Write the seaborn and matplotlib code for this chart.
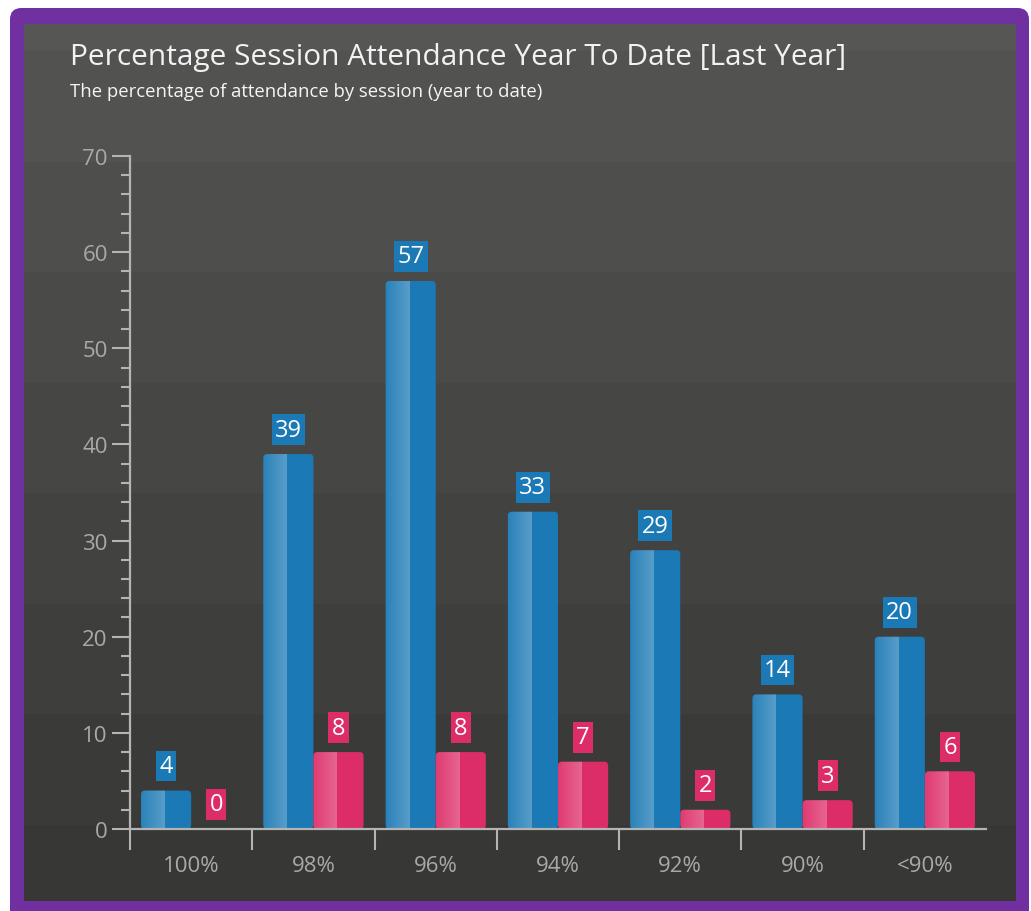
import numpy as np
import pandas as pd
import matplotlib
matplotlib.use("Agg")
import matplotlib.pyplot as plt
import seaborn as sns
from matplotlib.patches import FancyBboxPatch
from matplotlib.ticker import MultipleLocator, FixedLocator

# ---------------- data ----------------
categories = ["100%", "98%", "96%", "94%", "92%", "90%", "<90%"]
series_names = ["Pupils", "Comparison"]
blue_values = [4, 39, 57, 33, 29, 14, 20]
pink_values = [0, 8, 8, 7, 2, 3, 6]
y_ticks = [0, 10, 20, 30, 40, 50, 60, 70]

title = "Percentage Session Attendance Year To Date [Last Year]"
subtitle = "The percentage of attendance by session (year to date)"

# ---------------- style ----------------
BLUE = "#1b79b5"
PINK = "#dd2d68"
PURPLE = "#7030a0"
AXIS = "#b4b4b4"
TICKLBL = "#a9a9a9"
W, H = 1031, 912

sns.set_theme(style="white")
plt.rcParams['font.family'] = ['Open Sans', 'DejaVu Sans']

fig = plt.figure(figsize=(W / 100, H / 100), dpi=100, facecolor="white")

# purple frame
fig.patches.append(FancyBboxPatch((10 / W, -0.05), (1029 - 10) / W, 1 - 9 / H + 0.05,
                                  boxstyle="round,pad=0,rounding_size=0.011",
                                  mutation_aspect=W / H, transform=fig.transFigure,
                                  fc=PURPLE, ec="none", zorder=-5))

# dark stepped-gradient panel
panel_top, panel_bot = 25, 902
bg = fig.add_axes([24 / W, 1 - panel_bot / H, (1016 - 24) / W, (panel_bot - panel_top) / H], zorder=1)
top_c = np.array(matplotlib.colors.to_rgb("#565755"))
bot_c = np.array(matplotlib.colors.to_rgb("#373735"))
rows = np.arange(panel_top, panel_bot)
band = np.clip(np.floor((rows - 52) / 110.5) + 1, 0, 8) / 8.0
grad = (top_c[None, :] * (1 - band[:, None]) + bot_c[None, :] * band[:, None])[:, None, :]
bg.imshow(grad, aspect="auto", extent=[0, 1, 0, 1], interpolation="nearest")
bg.set_axis_off()

fig.text(70 / W, 1 - 65 / H, title, color="#f2f2f2", fontsize=21.5,
         va="baseline", ha="left", zorder=5)
fig.text(70 / W, 1 - 97 / H, subtitle, color="#f5f5f5", fontsize=13.3,
         va="baseline", ha="left", zorder=5)

# main axes
ax = fig.add_axes([130 / W, 1 - 830 / H, 856 / W, 673 / H], zorder=2)
ax.patch.set_alpha(0)

df = pd.DataFrame({
    "category": categories + categories,
    "series": [series_names[0]] * len(categories) + [series_names[1]] * len(categories),
    "value": blue_values + pink_values,
})
sns.barplot(data=df, x="category", y="value", hue="series", palette=[BLUE, PINK],
            width=0.82, saturation=1, ax=ax, legend=False, errorbar=None)

ax.set_xlim(-0.5, len(categories) - 0.5)
ax.set_ylim(y_ticks[0], y_ticks[-1])
ax.set_xlabel("")
ax.set_ylabel("")

# labels
for cont, col in zip(ax.containers, [BLUE, PINK]):
    ax.bar_label(cont, fmt="%d", padding=9, color="white", fontsize=17,
                 bbox=dict(boxstyle="square,pad=0.14", fc=col, ec="none"))

# rounded bars with highlight
fig.canvas.draw()
xpp = (ax.get_xlim()[1] - ax.get_xlim()[0]) / (856)
ypp = (ax.get_ylim()[1] - ax.get_ylim()[0]) / (673)
asp = ypp / xpp
r = 4 * xpp
for cont, col in zip(ax.containers, [BLUE, PINK]):
    for rect in cont:
        rect.set_visible(False)
        x0, w, h = rect.get_x(), rect.get_width(), rect.get_height()
        if h <= 0:
            continue
        fb = FancyBboxPatch((x0, 0), w, h, boxstyle=f"round,pad=0,rounding_size={r}",
                            mutation_aspect=asp, fc=col, ec="none", zorder=3)
        ax.add_patch(fb)
        n = 40
        alpha = np.linspace(0.07, 0.27, n)
        img = np.ones((1, n, 4))
        img[0, :, 3] = alpha
        im = ax.imshow(img, extent=[x0, x0 + 0.47 * w, 0, h], aspect="auto",
                       zorder=4, interpolation="bilinear")
        im.set_clip_path(fb)

ax.set_xlim(-0.5, len(categories) - 0.5)
ax.set_ylim(y_ticks[0], y_ticks[-1])

# spines and ticks
for s in ["top", "right"]:
    ax.spines[s].set_visible(False)
for s in ["left", "bottom"]:
    ax.spines[s].set_color(AXIS)
    ax.spines[s].set_linewidth(1.6)
    ax.spines[s].set_zorder(5)

ax.set_yticks(y_ticks)
ax.yaxis.set_minor_locator(MultipleLocator(2))
ax.tick_params(axis="y", which="major", length=13, width=1.5, color=AXIS,
               labelcolor=TICKLBL, labelsize=16, pad=3, direction="out", left=True)
ax.tick_params(axis="y", which="minor", length=6.5, width=1.5, color=AXIS,
               direction="out", left=True)

ax.set_xticks(range(len(categories)))
ax.set_xticklabels(categories)
ax.xaxis.set_minor_locator(FixedLocator(np.arange(-0.5, len(categories) - 1, 1.0)))
ax.tick_params(axis="x", which="major", length=0, labelcolor=TICKLBL,
               labelsize=16, pad=19, bottom=True)
ax.tick_params(axis="x", which="minor", length=15, width=1.5, color=AXIS,
               direction="out", bottom=True)
ax.grid(False)

fig.savefig("out.png", dpi=100, facecolor="white")
